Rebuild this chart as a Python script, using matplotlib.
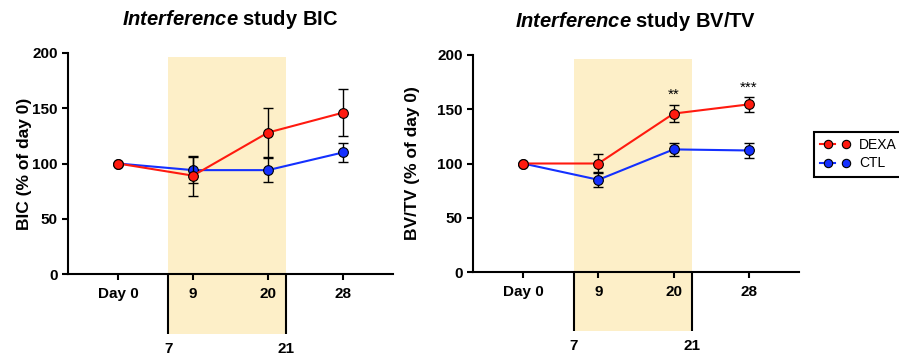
import matplotlib
matplotlib.use('Agg')
import matplotlib.pyplot as plt
import matplotlib.transforms as mtransforms
from matplotlib.patches import Rectangle
from matplotlib.lines import Line2D
from matplotlib.legend_handler import HandlerTuple

# data
days = ['Day 0', '9', '20', '28']

bic_dexa = [100, 89, 128, 146]
bic_dexa_err = [0, 18, 22, 21]
bic_ctl = [100, 94, 94, 110]
bic_ctl_err = [0, 12, 11, 9]

bvtv_dexa = [100, 100, 146, 154.5]
bvtv_dexa_err = [0, 9, 8, 7]
bvtv_ctl = [100, 85, 113, 112]
bvtv_ctl_err = [0, 7, 6, 7]

# treatment window (days 7 to 21) on the categorical axis
window = (0.67, 2.24)
window_labels = ['7', '21']

# significance stars for BV/TV (index, height, text)
stars = [(2, 163, '**'), (3, 170, '***')]

red = '#ff1a0f'
blue = '#1430ff'
shade = '#fdefc8'

plt.rcParams['font.family'] = 'Liberation Sans'
plt.rcParams['font.weight'] = 'bold'
plt.rcParams['axes.titleweight'] = 'bold'
plt.rcParams['axes.labelweight'] = 'bold'
plt.rcParams['mathtext.fontset'] = 'custom'
plt.rcParams['mathtext.it'] = 'Liberation Sans:italic:bold'
plt.rcParams['mathtext.rm'] = 'Liberation Sans:bold'
plt.rcParams['mathtext.bf'] = 'Liberation Sans:bold'


def draw_panel(ax, dexa, dexa_err, ctl, ctl_err, ylabel, title, label_x):
    x = range(len(days))
    trans = mtransforms.blended_transform_factory(ax.transData, ax.transAxes)

    # shaded window which runs below the x axis
    ax.add_patch(Rectangle((window[0], -0.27), window[1] - window[0], 1.25,
                           transform=trans, color=shade, lw=0,
                           clip_on=False, zorder=0))
    for xv, lab in zip(window, window_labels):
        ax.plot([xv, xv], [-0.27, 0], transform=trans, color='k', lw=1.5,
                clip_on=False, solid_capstyle='butt')
        ax.text(xv, -0.34, lab, transform=trans, ha='center', va='center',
                fontsize=11, fontweight='bold')

    ax.errorbar(x, ctl, yerr=ctl_err, fmt='none', ecolor='k', elinewidth=1,
                capsize=3.5, capthick=1, zorder=3)
    ax.plot(x, ctl, '-o', color=blue, lw=1.5, ms=7, mec='k', mew=0.8,
            zorder=4)
    ax.errorbar(x, dexa, yerr=dexa_err, fmt='none', ecolor='k', elinewidth=1,
                capsize=3.5, capthick=1, zorder=5)
    ax.plot(x, dexa, '-o', color=red, lw=1.5, ms=7, mec='k', mew=0.8,
            zorder=6)

    ax.set_xlim(-2 / 3, 11 / 3)
    ax.set_ylim(0, 200)
    ax.set_yticks([0, 50, 100, 150, 200])
    ax.set_xticks(list(x))
    ax.set_xticklabels(days)
    ax.spines[['top', 'right']].set_visible(False)
    for s in ['left', 'bottom']:
        ax.spines[s].set_linewidth(1.5)
    ax.tick_params(axis='both', width=1.5, labelsize=11)
    ax.tick_params(axis='y', length=4)
    ax.tick_params(axis='x', length=4.5, pad=5)
    for lab in ax.get_xticklabels() + ax.get_yticklabels():
        lab.set_fontweight('bold')
    ax.set_ylabel(ylabel, fontsize=12.5, fontweight='bold')
    ax.yaxis.set_label_coords(label_x, 0.5)
    ax.set_title(title, fontsize=14.5, pad=20, fontweight='bold')
    return ax


fig = plt.figure(figsize=(8.99, 3.6), dpi=100)
ax1 = fig.add_axes([68 / 899, 1 - 274 / 360, 325 / 899, 221 / 360])
ax2 = fig.add_axes([473 / 899, 1 - 272 / 360, 326 / 899, 217 / 360])

draw_panel(ax1, bic_dexa, bic_dexa_err, bic_ctl, bic_ctl_err,
           'BIC (% of day 0)', r'$\mathit{Interference}$ study BIC', -0.111)
draw_panel(ax2, bvtv_dexa, bvtv_dexa_err, bvtv_ctl, bvtv_ctl_err,
           'BV/TV (% of day 0)', r'$\mathit{Interference}$ study BV/TV', -0.163)

for i, yv, txt in stars:
    ax2.text(i, yv, txt, ha='center', va='center', fontsize=11,
             fontweight='normal')

handles = []
for c in [red, blue]:
    ln = Line2D([], [], color=c, lw=1.5, marker='o', ms=6, mec='k', mew=0.8)
    mk = Line2D([], [], ls='none', color=c, marker='o', ms=6, mec='k',
                mew=0.8)
    handles.append((ln, mk))
leg = fig.legend(handles, ['DEXA', 'CTL'],
                 handler_map={tuple: HandlerTuple(ndivide=None, pad=0.3)},
                 loc='upper left', bbox_to_anchor=(814 / 899, 1 - 132 / 360),
                 frameon=True, fancybox=False, edgecolor='k', framealpha=1,
                 prop={'size': 10, 'weight': 'normal'}, handlelength=2.4,
                 borderpad=0.45, handletextpad=0.4, labelspacing=0.3,
                 borderaxespad=0)
leg.get_frame().set_linewidth(1.5)

fig.savefig('out.png', dpi=100)
